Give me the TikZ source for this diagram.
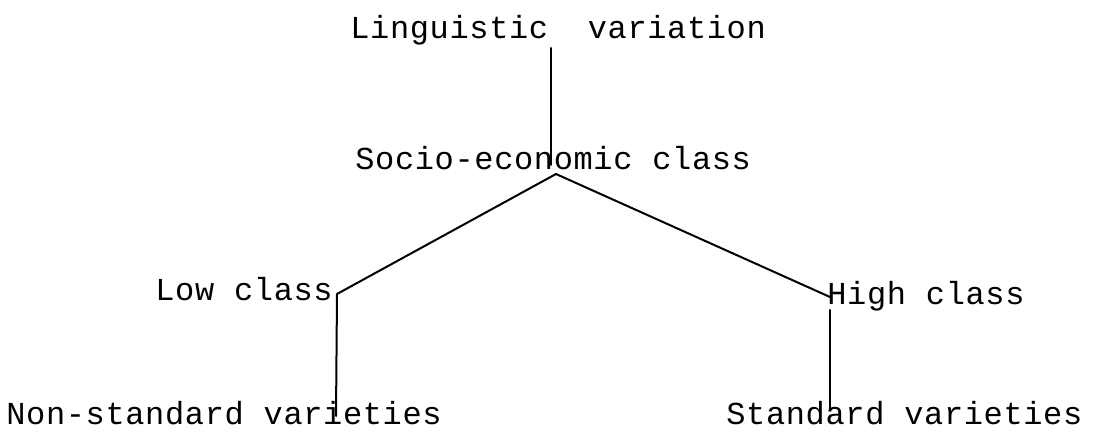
\documentclass[tikz,border=0pt]{standalone}
\usepackage{fontspec}
\newfontfamily\typewr{Liberation Mono}[LetterSpace=2]
\usetikzlibrary{arrows,calc}
\usepackage{tkz-euclide}

\tikzset{lbl/.style={anchor=base west,inner sep=0pt,font=\typewr\fontsize{16}{19}\selectfont}}

\begin{document}
\begin{tikzpicture}[x=0.5pt,y=0.5pt]
\useasboundingbox (0,0) rectangle (1108,439);
\tkzSetUpLine[line width=1pt,color=black]

% labels
\node[lbl] (ling) at (350,400) {Linguistic\ \ variation};
\node[lbl] (socio) at (355,269) {Socio-economic class};
\node[lbl] (low) at (155,138) {Low class};
\node[lbl] (high) at (827,134) {High class};
\node[lbl] (nonstd) at (6,14) {Non-standard varieties};
\node[lbl] (std) at (726,14) {Standard varieties};

\tkzDefPoints{551/391/T1,551/274/T2,556/265/P,337/145/Q,336/23/Q1,830/142/R,830/129/R1,830/29/R2}

% Step 1
\tkzDrawSegments(T1,T2)

% Step 2
\tkzDrawSegments(P,Q P,R)

% Step 3
\tkzDrawSegments(Q,Q1 R1,R2)

\end{tikzpicture}
\end{document}
